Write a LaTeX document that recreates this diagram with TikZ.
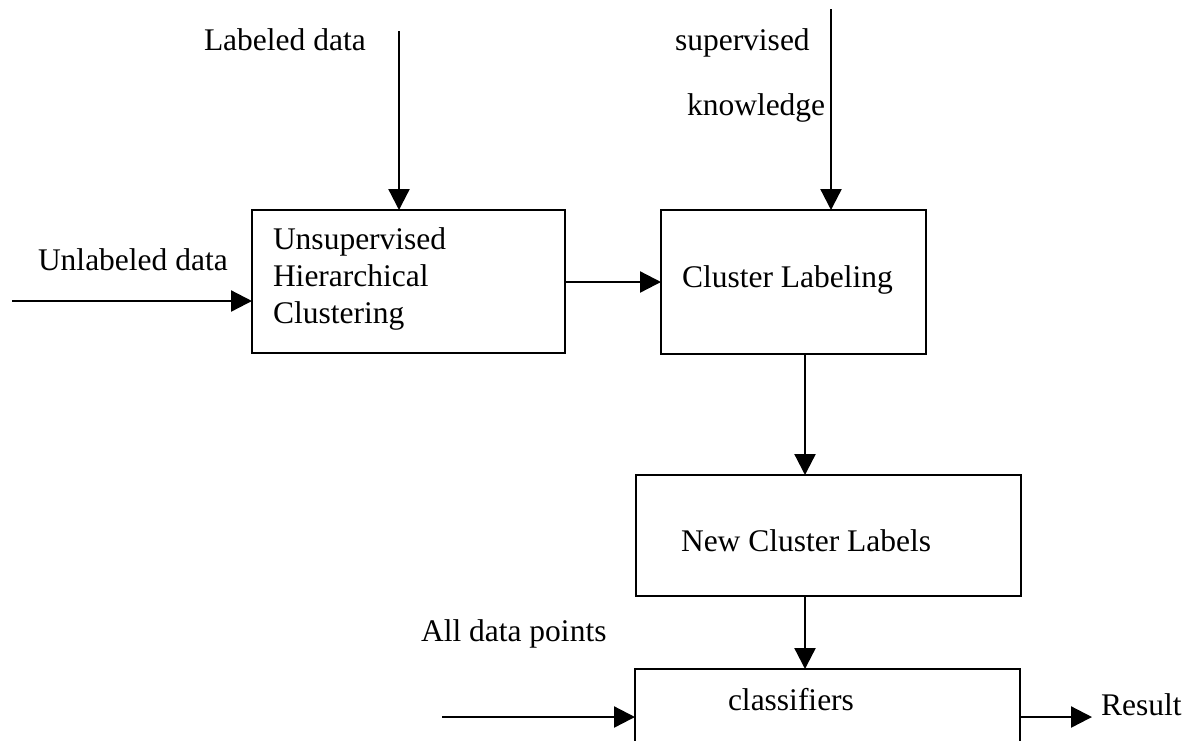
\documentclass[tikz,border=0pt]{standalone}
\usepackage{fontspec}
\setmainfont{Liberation Serif}
\usetikzlibrary{arrows.meta}
\begin{document}
\begin{tikzpicture}[x=1pt,y=-1pt,
  box/.style={draw, line width=2.6pt, inner sep=0pt, outer sep=0pt},
  txt/.style={anchor=base west, inner sep=0pt, outer sep=0pt, font=\fontsize{31.5}{38}\selectfont},
  arr/.style={line width=2.3pt, -{Triangle[length=21pt,width=21pt]}}]
\clip (0,0) rectangle (1198,740);
\fill[white] (0,0) rectangle (1198,740);
% boxes
\node[box, minimum width=313pt, minimum height=143pt] (box1) at (408.5,281.5) {};
\node[box, minimum width=265pt, minimum height=144pt] (box2) at (793.5,282) {};
\node[box, minimum width=385pt, minimum height=121pt] (box3) at (828.5,535.5) {};
\node[box, minimum width=385pt, minimum height=131pt] (box4) at (827.5,734.5) {};
% texts
\node[txt] (t11) at (273,249) {Unsupervised};
\node[txt] (t12) at (273,286) {Hierarchical};
\node[txt] (t13) at (273,323) {Clustering};
\node[txt] (t2) at (682,287) {Cluster Labeling};
\node[txt] (t3) at (681,551) {New Cluster Labels};
\node[txt] (t4) at (728,710) {classifiers};
\node[txt] (lab) at (204,50) {Labeled data};
\node[txt] (sup1) at (675,50) {supervised};
\node[txt] (sup2) at (687,115) {knowledge};
\node[txt] (unl) at (38,270) {Unlabeled data};
\node[txt] (all) at (421,641) {All data points};
\node[txt] (res) at (1101,715) {Result};
% free ends
\coordinate (labtop) at (399,31);
\coordinate (suptop) at (831,9);
\coordinate (unlstart) at (12,301);
\coordinate (allstart) at (442,717);
% connectors
\draw[arr] (labtop) -- (labtop |- box1.north);
\draw[arr] (suptop) -- (suptop |- box2.north);
\draw[arr] (unlstart) -- (unlstart -| box1.west);
\draw[arr] (box1.east |- box2.west) -- (box2.west);
\draw[arr] ([xshift=-23.5pt]box3.north |- box2.south) -- ([xshift=-23.5pt]box3.north);
\draw[arr] ([xshift=-23.5pt]box3.south) -- ([xshift=-23.5pt]box3.south |- box4.north);
\draw[arr] (allstart) -- (allstart -| box4.west);
\draw[arr] (box4.east |- allstart) -- ([xshift=-9pt]res.base west |- allstart);
\end{tikzpicture}
\end{document}
